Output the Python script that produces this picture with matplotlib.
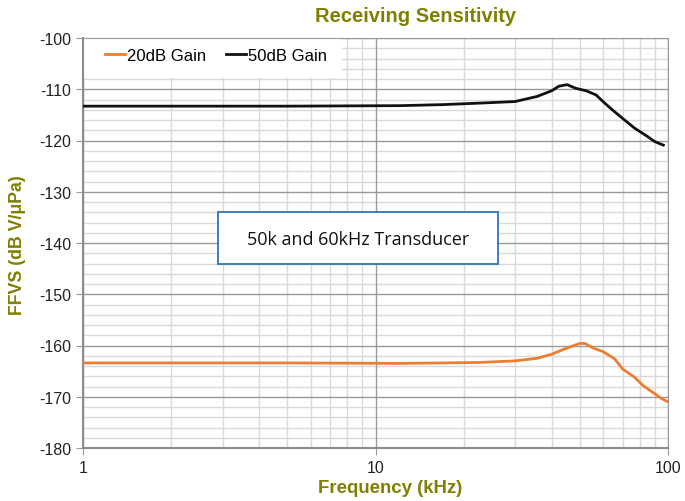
import matplotlib.pyplot as plt
from matplotlib.patches import Rectangle
import numpy as np

freq_50 = [1, 5, 12.1, 17, 22.8, 30, 35.7, 40, 42.4, 45.2, 48.3, 52.5, 56.7, 61.3, 65.7, 70, 76.9, 84.5, 90, 96.4]
ffvs_50 = [-113.3, -113.3, -113.2, -113.0, -112.7, -112.4, -111.4, -110.3, -109.4, -109.1, -109.8, -110.3, -111.1, -112.9, -114.4, -115.7, -117.6, -119.1, -120.2, -120.9]

freq_20 = [1, 5, 12.1, 17, 22.8, 30, 35.7, 40, 45.1, 49.9, 52.0, 55.5, 60, 65.7, 70, 76.9, 82.1, 88.5, 94.7, 100]
ffvs_20 = [-163.4, -163.4, -163.5, -163.4, -163.3, -163.0, -162.5, -161.7, -160.5, -159.6, -159.6, -160.5, -161.2, -162.6, -164.6, -166.2, -167.8, -169.1, -170.3, -171.0]

x_major = [1, 10, 100]
y_major = list(range(-180, -99, 10))

olive = '#7f7f00'
plt.rcParams['font.family'] = ['Liberation Sans', 'DejaVu Sans']

W, H = 685, 502
fig = plt.figure(figsize=(6.85, 5.02), dpi=100)
ax = fig.add_axes([83 / W, 1 - 449 / H, 585 / W, 410 / H])

ax.plot(freq_20, ffvs_20, color='#ed7d31', lw=2, label='20dB Gain', zorder=3)
ax.plot(freq_50, ffvs_50, color='#111111', lw=2, label='50dB Gain', zorder=3)

ax.set_xscale('log')
ax.set_xlim(1, 100)
ax.set_ylim(-180, -100)
ax.set_yticks(y_major)
ax.set_yticklabels([str(v) for v in y_major])
ax.set_yticks(np.arange(-180, -99, 2), minor=True)
ax.set_xticks(x_major)
ax.set_xticklabels([str(v) for v in x_major])
ax.tick_params(axis='both', which='major', labelsize=11.5, colors='#222222', length=5, color='#999999')
ax.tick_params(axis='both', which='minor', length=0, labelleft=False, labelbottom=False)
ax.set_axisbelow(True)
ax.grid(True, which='minor', color='#d9d9d9', lw=1)
for v in x_major:
    ax.axvline(v, color='#9a9a9a', lw=1, zorder=0.8)
for v in y_major:
    ax.axhline(v, color='#9a9a9a', lw=1, zorder=0.8)
for s in ['top', 'right']:
    ax.spines[s].set_color('#9a9a9a')
for s in ['left', 'bottom']:
    ax.spines[s].set_color('#8c8c8c')
    ax.spines[s].set_linewidth(1.5)

# white legend area
ax.add_patch(Rectangle((0, 1 - 40 / 410), 259 / 585, 40 / 410, transform=ax.transAxes,
                       facecolor='white', edgecolor='none', zorder=2.4))
leg = ax.legend(loc='center left', ncol=2, frameon=False, fontsize=12, handlelength=1.2,
                handletextpad=0.12, columnspacing=1.2, borderpad=0, borderaxespad=0,
                bbox_to_anchor=(22 / 585, 1 - 17.5 / 410))
leg.set_zorder(4)

fig.text(416 / W, 1 - 17 / H, 'Receiving Sensitivity', ha='center', va='center',
         fontsize=14.5, fontweight='bold', color=olive)
fig.text(390 / W, 1 - 489 / H, 'Frequency (kHz)', ha='center', va='center',
         fontsize=13.4, fontweight='bold', color=olive)
fig.text(18 / W, 1 - 245 / H, 'FFVS (dB V/\u03bcPa)', ha='center', va='center',
         rotation=90, fontsize=12.8, fontweight='bold', color=olive)

box = Rectangle((218 / W, 1 - 265 / H), 280 / W, 52 / H, transform=fig.transFigure,
                facecolor='white', edgecolor='#2e75b6', lw=1.3, zorder=5)
fig.add_artist(box)
fig.text(358 / W, 1 - 240 / H, '50k and 60kHz Transducer', ha='center', va='center',
         fontsize=13, family=['Open Sans', 'DejaVu Sans'], color='#111111', zorder=6)

fig.savefig('out.png', dpi=100)
